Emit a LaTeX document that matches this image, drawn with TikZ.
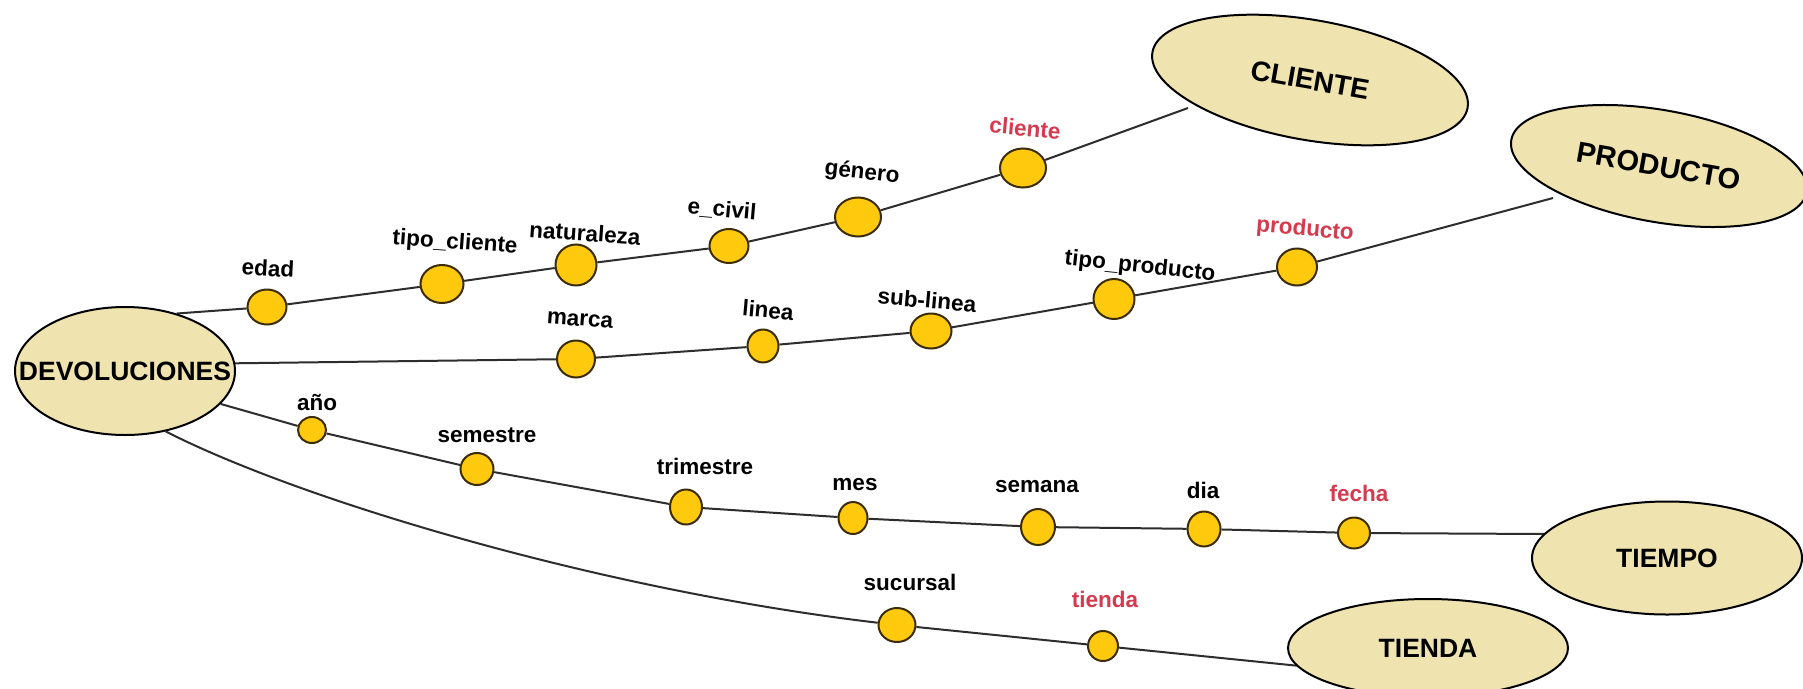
\documentclass[tikz,border=0pt]{standalone}
\usepackage{fontspec}
\setmainfont{Liberation Sans}
\usetikzlibrary{shapes.geometric,backgrounds}

\definecolor{enttan}{RGB}{239,228,176}
\definecolor{dotgold}{RGB}{255,201,14}
\definecolor{dotrim}{RGB}{60,45,10}
\definecolor{keyred}{RGB}{214,58,78}
\definecolor{wire}{RGB}{45,45,45}

\tikzset{
  % entity ellipses: the size comes from the minimum width/height only
  entity/.style={ellipse, draw=black, line width=2pt, fill=enttan,
    inner xsep=-80pt, inner ysep=-30pt,
    font=\fontsize{26.5}{30}\selectfont\bfseries},
  attr/.style={ellipse, draw=dotrim, line width=2pt, fill=dotgold, inner sep=0pt},
  lbl/.style={font=\fontsize{22.5}{26}\selectfont\bfseries, inner sep=0pt},
  keylbl/.style={lbl, text=keyred},
  link/.style={draw=wire, line width=2pt},
}

\begin{document}
\begin{tikzpicture}[x=1pt, y=-1pt]
\useasboundingbox (0,0) rectangle (1803,688);

% ---------- entities ----------
\node[entity, minimum width=220pt, minimum height=128pt] (dev) at (125,371) {DEVOLUCIONES};
\node[entity, minimum width=320pt, minimum height=120pt, rotate=-10,
      font=\fontsize{28}{32}\selectfont\bfseries] (cli) at (1310,80) {CLIENTE};
\node[entity, minimum width=300pt, minimum height=112pt, rotate=-10,
      font=\fontsize{29}{33}\selectfont\bfseries] (pro) at (1659,166) {PRODUCTO};
\node[entity, minimum width=270pt, minimum height=113pt] (tie) at (1667,558) {TIEMPO};
\node[entity, minimum width=280pt, minimum height=98pt] (tda) at (1428,648) {TIENDA};

% points where the links meet the entity outlines
\coordinate (cliIn) at (1188,108);
\coordinate (proIn) at (1553,198);
\coordinate (tieIn) at (1546,534);
\coordinate (tdaIn) at (1300,666);

% ---------- cliente hierarchy ----------
\node[attr, minimum width=39pt, minimum height=35pt] (edad) at (267,307) {};
\node[attr, minimum width=43pt, minimum height=38pt] (tcli) at (442,284) {};
\node[attr, minimum width=41pt, minimum height=41pt] (natu) at (576,265) {};
\node[attr, minimum width=39pt, minimum height=34pt] (eciv) at (729,246) {};
\node[attr, minimum width=46pt, minimum height=39pt] (gene) at (858,217) {};
\node[attr, minimum width=46pt, minimum height=39pt] (clid) at (1023,168) {};

\node[lbl, rotate=-3] (edadL) at (268,268) {edad};
\node[lbl, rotate=-4] (tcliL) at (455,243) {tipo\_cliente};
\node[lbl, rotate=-4] (natuL) at (585,233) {naturaleza};
\node[lbl, rotate=-5] (ecivL) at (722,210) {e\_civil};
\node[lbl, rotate=-6] (geneL) at (862,173) {género};
\node[keylbl, rotate=-5] (clidL) at (1025,128) {cliente};

% ---------- producto hierarchy ----------
\node[attr, minimum width=38pt, minimum height=37pt] (marc) at (576,359) {};
\node[attr, minimum width=31pt, minimum height=33pt] (line) at (763,346) {};
\node[attr, minimum width=41pt, minimum height=35pt] (subl) at (931,331) {};
\node[attr, minimum width=41pt, minimum height=40pt] (tpro) at (1114,299) {};
\node[attr, minimum width=40pt, minimum height=37pt] (prod) at (1297,267) {};

\node[lbl, rotate=-4] (marcL) at (580,320) {marca};
\node[lbl, rotate=-5] (lineL) at (768,310) {linea};
\node[lbl, rotate=-5] (sublL) at (927,300) {sub-linea};
\node[lbl, rotate=-6] (tproL) at (1140,267) {tipo\_producto};
\node[keylbl, rotate=-5] (prodL) at (1305,230) {producto};

% ---------- tiempo hierarchy ----------
\node[attr, minimum width=28pt, minimum height=26pt] (anio) at (312,430) {};
\node[attr, minimum width=33pt, minimum height=32pt] (seme) at (477,469) {};
\node[attr, minimum width=32pt, minimum height=35pt] (trim) at (686,507) {};
\node[attr, minimum width=29pt, minimum height=32pt] (mes)  at (853,518) {};
\node[attr, minimum width=34pt, minimum height=36pt] (sema) at (1038,527) {};
\node[attr, minimum width=33pt, minimum height=35pt] (dia)  at (1204,529) {};
\node[attr, minimum width=32pt, minimum height=31pt] (fech) at (1354,533) {};

\node[lbl] (anioL) at (317,402) {año};
\node[lbl] (semeL) at (487,435) {semestre};
\node[lbl] (trimL) at (705,466) {trimestre};
\node[lbl] (mesL)  at (855,485) {mes};
\node[lbl] (semaL) at (1037,487) {semana};
\node[lbl] (diaL)  at (1203,490) {dia};
\node[keylbl] (fechL) at (1359,493) {fecha};

% ---------- tienda hierarchy ----------
\node[attr, minimum width=37pt, minimum height=34pt] (sucu) at (897,625) {};
\node[attr, minimum width=30pt, minimum height=30pt] (tien) at (1103,646) {};

\node[lbl] (sucuL) at (910,582) {sucursal};
\node[keylbl] (tienL) at (1105,599) {tienda};

% ---------- links ----------
\begin{scope}[on background layer]
  \fill[white] (0,0) rectangle (1803,688);
  \draw[link] (dev.48) -- (edad) -- (tcli) -- (natu) -- (eciv) -- (gene) -- (clid) -- (cliIn);
  \draw[link] (dev.4) -- (marc) -- (line) -- (subl) -- (tpro) -- (prod) -- (proIn);
  \draw[link] (dev.-19) -- (anio) -- (seme) -- (trim) -- (mes) -- (sema) -- (dia) -- (fech) -- (tieIn);
  \draw[link] (dev.-56) .. controls (300,500) and (600,590) .. (sucu) -- (tien) -- (tdaIn);
\end{scope}
\end{tikzpicture}
\end{document}
